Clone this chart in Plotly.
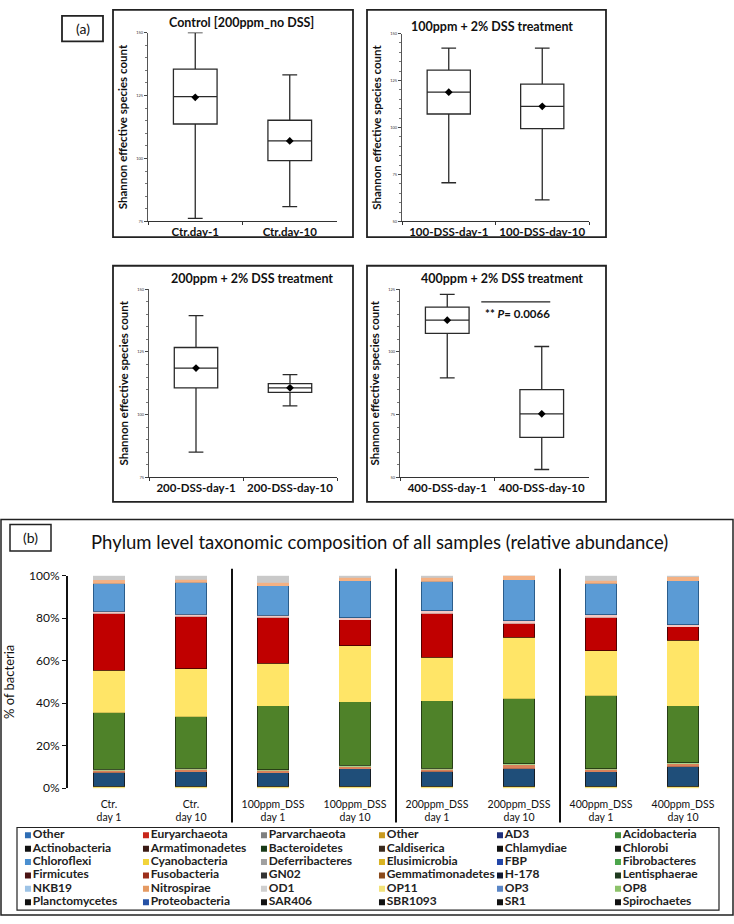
import plotly.graph_objects as go

W, H = 734, 924

# ---- (a) boxplot data: Shannon effective species count ----
box_titles = ["Control [200ppm_no DSS]", "100ppm + 2% DSS treatment",
              "200ppm + 2% DSS treatment", "400ppm + 2% DSS treatment"]
box_cats = [["Ctr.day-1", "Ctr.day-10"],
            ["100-DSS-day-1", "100-DSS-day-10"],
            ["200-DSS-day-1", "200-DSS-day-10"],
            ["400-DSS-day-1", "400-DSS-day-10"]]
box_lower = [[76.2, 80.9], [70.6, 61.5], [85.0, 103.5], [89.7, 53.1]]
box_q1 = [[113.7, 99.2], [107.2, 99.4], [110.7, 108.9], [107.4, 65.9]]
box_median = [[124.6, 107.0], [118.8, 111.3], [118.6, 110.7], [112.7, 75.3]]
box_mean = [[124.3, 107.0], [118.8, 111.3], [118.6, 110.7], [112.7, 75.3]]
box_q3 = [[135.5, 115.2], [130.5, 123.1], [126.8, 112.4], [117.9, 85.0]]
box_upper = [[150.0, 133.2], [142.3, 142.3], [139.5, 116.0], [123.0, 102.2]]
box_yrange = [[75, 150], [50, 150], [75, 150], [50, 125]]

# ---- (b) phylum composition (% of bacteria) ----
samples = ["Ctr.<br>day 1", "Ctr.<br>day 10", "100ppm_DSS<br>day 1", "100ppm_DSS<br>day 10",
           "200ppm_DSS<br>day 1", "200ppm_DSS<br>day 10", "400ppm_DSS<br>day 1", "400ppm_DSS<br>day 10"]
stack_order = ["OP11", "AD3", "Fusobacteria", "OP8", "Acidobacteria", "Cyanobacteria",
               "Euryarchaeota", "NKB19", "Chloroflexi", "Nitrospirae", "OD1"]
op11 = [1.0, 1.0, 1.0, 1.0, 1.0, 1.0, 1.0, 1.0]
ad3 = [6.5, 6.8, 6.3, 8.1, 7.0, 8.4, 6.6, 9.2]
fusobacteria = [1.0, 1.2, 1.0, 1.0, 0.9, 1.6, 1.2, 1.3]
op8 = [0.5, 0.4, 0.4, 0.6, 0.4, 0.5, 0.4, 0.5]
acidobacteria = [26.6, 24.4, 30.0, 30.0, 31.9, 30.8, 34.5, 26.7]
cyanobacteria = [19.9, 22.4, 20.1, 26.3, 20.4, 28.8, 21.0, 30.9]
euryarchaeota = [26.9, 24.8, 21.6, 12.3, 20.8, 6.4, 15.7, 6.3]
nkb19 = [0.8, 0.9, 1.0, 0.8, 1.0, 1.2, 1.1, 1.1]
chloroflexi = [13.1, 14.9, 13.8, 17.4, 14.0, 19.4, 14.8, 20.5]
nitrospirae = [1.8, 1.5, 1.6, 1.8, 1.8, 1.9, 1.5, 2.0]
od1 = [1.9, 1.7, 3.2, 0.7, 0.8, 0.0, 2.2, 0.5]
stack_values = [op11, ad3, fusobacteria, op8, acidobacteria, cyanobacteria,
                euryarchaeota, nkb19, chloroflexi, nitrospirae, od1]

legend_names = ["Other", "Euryarchaeota", "Parvarchaeota", "Other", "AD3", "Acidobacteria",
                "Actinobacteria", "Armatimonadetes", "Bacteroidetes", "Caldiserica", "Chlamydiae", "Chlorobi",
                "Chloroflexi", "Cyanobacteria", "Deferribacteres", "Elusimicrobia", "FBP", "Fibrobacteres",
                "Firmicutes", "Fusobacteria", "GN02", "Gemmatimonadetes", "H-178", "Lentisphaerae",
                "NKB19", "Nitrospirae", "OD1", "OP11", "OP3", "OP8",
                "Planctomycetes", "Proteobacteria", "SAR406", "SBR1093", "SR1", "Spirochaetes"]
legend_colors = ["#2E6DB4", "#C8261A", "#7F7F7F", "#C99A1E", "#1F2F7A", "#3E8E3A",
                 "#111111", "#3A1A14", "#183A18", "#3A2A1E", "#111111", "#111111",
                 "#4A8FD0", "#F2D43A", "#A0A0A0", "#D9B321", "#2346A8", "#4CA64C",
                 "#4A1414", "#9C2E1A", "#333333", "#8A4A1A", "#101830", "#1F3A1F",
                 "#9DC3E6", "#E59A62", "#CFCFCF", "#F2E27A", "#5A86C6", "#8CC26A",
                 "#111111", "#2552A6", "#111111", "#111111", "#111111", "#111111"]

bar_colors = {"OP11": "#F5E27A", "AD3": "#1F4E79", "Fusobacteria": "#D9825B", "OP8": "#A9D18E",
              "Acidobacteria": "#4F8229", "Cyanobacteria": "#FFE567", "Euryarchaeota": "#C00000",
              "NKB19": "#F2C9C4", "Chloroflexi": "#5B9BD5", "Nitrospirae": "#F4B183", "OD1": "#C9C9C9"}
bar_edges = {"AD3": "#111111", "Acidobacteria": "#1E2E10", "Euryarchaeota": "#3A0000",
             "Chloroflexi": "#1F4E79"}

FONT = "Lato"


def px(x):
    return x / W


def py(y):
    return 1 - y / H


def label(text, x, y, size, bold=False, ref=("paper", "paper")):
    # centred text annotation
    return dict(text=text, xref=ref[0], yref=ref[1], x=x, y=y, showarrow=False,
                xanchor="center", yanchor="middle",
                font=dict(family=FONT, size=size, color="#111", weight="bold" if bold else "normal"))


fig = go.Figure()

# panel pixel geometry: (x0, x1, ytop, ybottom) of the plot areas
box_areas = [(148, 337, 25, 217), (402, 589, 26, 217), (149, 337, 286, 477), (400, 589, 286, 477)]
box_frames = [(113, 353, 2, 233), (367, 606, 2, 233), (113, 353, 262, 502), (367, 606, 262, 502)]
title_pos = [(241, 15), (492, 19), (252, 275), (502, 275)]

layout_axes = {}
annotations = []
shapes = []

for i in range(4):
    n = i + 1
    xa = "x" if n == 1 else f"x{n}"
    ya = "y" if n == 1 else f"y{n}"
    fig.add_trace(go.Box(
        x=box_cats[i], q1=box_q1[i], median=box_median[i], q3=box_q3[i],
        lowerfence=box_lower[i], upperfence=box_upper[i],
        xaxis=xa, yaxis=ya, fillcolor="white",
        line=dict(color="#2a2a2a", width=1.3), whiskerwidth=0.34,
        showlegend=False, hoverinfo="skip"
    ))
    fig.add_trace(go.Scatter(
        x=box_cats[i], y=box_mean[i], mode="markers", xaxis=xa, yaxis=ya,
        marker=dict(symbol="diamond", size=6, color="black"), showlegend=False
    ))
    x0, x1, yt, yb = box_areas[i]
    layout_axes["xaxis" if n == 1 else f"xaxis{n}"] = dict(
        domain=[px(x0), px(x1)], anchor=ya, showline=True, linecolor="#333", linewidth=1,
        ticks="outside", tickson="boundaries", ticklen=3, tickcolor="#333", tickangle=0,
        tickfont=dict(family=FONT, size=11.5, color="#111", weight="bold"),
        showgrid=False, zeroline=False, range=[-0.5, 1.5]
    )
    layout_axes["yaxis" if n == 1 else f"yaxis{n}"] = dict(
        domain=[py(yb), py(yt)], anchor=xa, range=box_yrange[i], dtick=25,
        showline=True, linecolor="#555", linewidth=1, ticks="outside", ticklen=3,
        minor=dict(ticks="outside", ticklen=2, dtick=5, tickcolor="#777"),
        tickfont=dict(family=FONT, size=4, color="#333"),
        showgrid=False, zeroline=False,
        title=dict(text="Shannon effective species count", standoff=6,
                   font=dict(family=FONT, size=11.5, color="#111", weight="bold"))
    )
    fx0, fx1, fy0, fy1 = box_frames[i]
    shapes.append(dict(type="rect", xref="paper", yref="paper", x0=px(fx0), x1=px(fx1),
                       y0=py(fy1), y1=py(fy0), line=dict(color="#222", width=1.8)))
    tx, ty = title_pos[i]
    annotations.append(label(box_titles[i], px(tx), py(ty), 12.5, bold=True))

# significance bar in 400ppm panel
shapes.append(dict(type="line", xref="x4", yref="y4", x0=0.36, x1=1.09, y0=120, y1=120,
                   line=dict(color="#222", width=1.2)))
annotations.append(label("** <i>P</i>= 0.0066", 0.74, 115.5, 11.5, bold=True, ref=("x4", "y4")))

# (a) label
shapes.append(dict(type="rect", xref="paper", yref="paper", x0=px(62), x1=px(103), y0=py(34), y1=py(8),
                   line=dict(color="#222", width=1.8)))
annotations.append(label("(a)", px(82.5), py(21), 14))

# ---- (b) stacked bars ----
for name, vals in zip(stack_order, stack_values):
    fig.add_trace(go.Bar(
        x=samples, y=vals, name=name, xaxis="x5", yaxis="y5", width=0.39,
        marker=dict(color=bar_colors[name],
                    line=dict(color=bar_edges.get(name, bar_colors[name]), width=0.8)),
        showlegend=False
    ))

layout_axes["xaxis5"] = dict(domain=[px(68), px(724)], anchor="y5", showline=False, ticks="",
                             range=[-0.5, 7.5], showgrid=False, zeroline=False, tickangle=0,
                             ticklabelstandoff=8,
                             tickfont=dict(family=FONT, size=10.5, color="#111"))
layout_axes["yaxis5"] = dict(domain=[py(793), py(577)], anchor="x5", range=[0, 100], dtick=20,
                             ticksuffix="%", showline=True, linecolor="#111", linewidth=2,
                             ticks="outside", ticklen=4, tickcolor="#111", showgrid=False,
                             zeroline=False, tickfont=dict(family=FONT, size=12, color="#111"),
                             title=dict(text="% of bacteria", standoff=12,
                                        font=dict(family=FONT, size=13, color="#111")))

# group separators
for sep in [1.5, 3.5, 5.5]:
    shapes.append(dict(type="line", xref="x5", yref="paper", x0=sep, x1=sep, y0=py(828), y1=py(570),
                       line=dict(color="#111", width=2)))

# (b) frame, label and title
shapes.append(dict(type="rect", xref="paper", yref="paper", x0=px(1), x1=px(733), y0=py(922), y1=py(520),
                   line=dict(color="#222", width=1.5)))
shapes.append(dict(type="rect", xref="paper", yref="paper", x0=px(10), x1=px(51), y0=py(552), y1=py(525),
                   line=dict(color="#222", width=1.5)))
annotations.append(label("(b)", px(30.5), py(538.5), 14))
annotations.append(label("Phylum level taxonomic composition of all samples (relative abundance)",
                         px(379), py(543), 18.5))

# ---- legend grid (6 columns) ----
leg_cols = [i % 6 for i in range(len(legend_names))]
leg_rows = [-(i // 6) for i in range(len(legend_names))]
fig.add_trace(go.Scatter(
    x=leg_cols, y=leg_rows, mode="markers+text", text=legend_names, textposition="middle right",
    xaxis="x6", yaxis="y6", marker=dict(symbol="square", size=6, color=legend_colors),
    textfont=dict(family=FONT, size=12, color="#222", weight="bold"),
    showlegend=False, hoverinfo="skip"
))
layout_axes["xaxis6"] = dict(domain=[px(17), px(719)], anchor="y6", range=[-0.093, 5.856],
                             visible=False)
layout_axes["yaxis6"] = dict(domain=[py(917), py(833)], anchor="x6", range=[-5.59, 0.59],
                             visible=False)
shapes.append(dict(type="rect", xref="paper", yref="paper", x0=px(17), x1=px(719), y0=py(917), y1=py(833),
                   line=dict(color="#222", width=1.2)))

fig.update_layout(
    width=W, height=H,
    margin=dict(l=0, r=0, t=0, b=0),
    paper_bgcolor="white", plot_bgcolor="white",
    barmode="stack", boxgap=0.34,
    shapes=shapes, annotations=annotations,
    showlegend=False,
    font=dict(family=FONT),
    **layout_axes
)

fig.write_html("out.html", config={"displayModeBar": False},
               post_script="document.body.style.margin='0';")
